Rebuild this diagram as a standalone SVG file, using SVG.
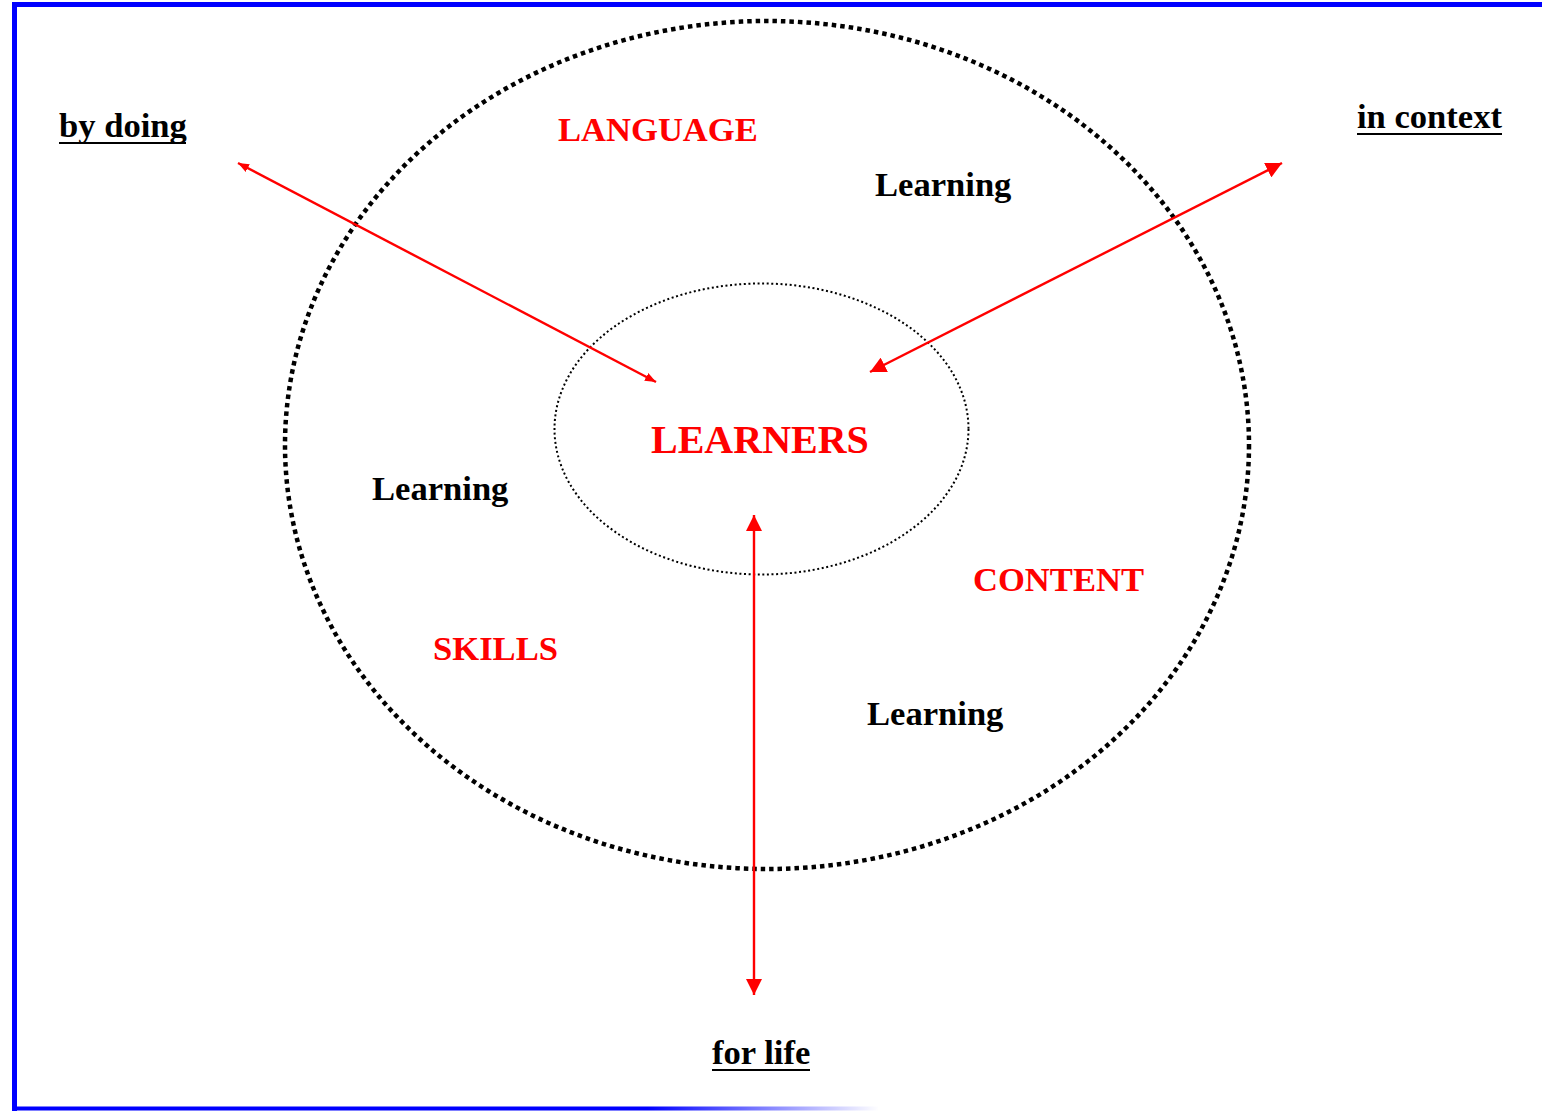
<svg xmlns="http://www.w3.org/2000/svg" width="1542" height="1111" viewBox="0 0 1542 1111">
<defs>
<style>
.t{font-family:"Liberation Serif","Times New Roman",serif;font-weight:bold;font-size:34.6px}
.blk{fill:#000}
.red{fill:#ff0000}
.ul{stroke:#000;stroke-width:2}
.con{stroke:#ff0000;stroke-width:2.4;fill:none}
</style>
<marker id="hs" viewBox="0 0 10 8" refX="10" refY="4" markerWidth="11" markerHeight="9" markerUnits="userSpaceOnUse" orient="auto-start-reverse"><path d="M0,0 L10,4 L0,8 Z" fill="#ff0000"/></marker>
<marker id="hl" viewBox="0 0 16 16" refX="16" refY="8" markerWidth="16" markerHeight="16" markerUnits="userSpaceOnUse" orient="auto-start-reverse"><path d="M0,0 L16,8 L0,16 Z" fill="#ff0000"/></marker>
<linearGradient id="bg" x1="0" y1="0" x2="1542" y2="0" gradientUnits="userSpaceOnUse">
<stop offset="0" stop-color="#0000ff"/>
<stop offset="0.42" stop-color="#0000ff"/>
<stop offset="0.57" stop-color="#0000ff" stop-opacity="0"/>
</linearGradient>
</defs>
<rect width="1542" height="1111" fill="#fff"/>
<g id="border">
<line x1="12" y1="4.5" x2="1542" y2="4.5" stroke="#0000ff" stroke-width="5"/>
<line x1="14.5" y1="2" x2="14.5" y2="1111" stroke="#0000ff" stroke-width="5"/>
<line x1="12" y1="1108.5" x2="1542" y2="1108.5" stroke="url(#bg)" stroke-width="4"/>
</g>
<g id="outer-circle"><ellipse cx="767" cy="445" rx="482" ry="424" fill="none" stroke="#000" stroke-width="4.5" stroke-dasharray="4.5 4"/></g>
<g id="inner-ellipse"><ellipse cx="761.5" cy="429" rx="207" ry="145.5" fill="none" stroke="#000" stroke-width="2" stroke-dasharray="2 2.6"/></g>
<g id="connectors">
<line class="con" x1="238" y1="163" x2="656" y2="382" marker-start="url(#hs)" marker-end="url(#hs)"/>
<line class="con" x1="870" y1="372" x2="1282" y2="163" marker-start="url(#hl)" marker-end="url(#hl)"/>
<line class="con" x1="754" y1="515" x2="754" y2="995" marker-start="url(#hl)" marker-end="url(#hl)"/>
</g>
<g id="by-doing"><text class="t blk" x="59" y="137">by doing</text><line class="ul" x1="59" y1="143" x2="186" y2="143"/></g>
<g id="in-context"><text class="t blk" x="1357" y="128">in context</text><line class="ul" x1="1357" y1="134" x2="1502" y2="134"/></g>
<g id="for-life"><text class="t blk" x="712" y="1064">for life</text><line class="ul" x1="712" y1="1070" x2="810" y2="1070"/></g>
<g id="language"><text class="t red" x="558" y="141">LANGUAGE</text></g>
<g id="learning-1"><text class="t blk" x="875" y="196">Learning</text></g>
<g id="learners"><text class="t red" x="651" y="453" style="font-size:40px">LEARNERS</text></g>
<g id="learning-2"><text class="t blk" x="372" y="500">Learning</text></g>
<g id="content"><text class="t red" x="973" y="591">CONTENT</text></g>
<g id="skills"><text class="t red" x="433" y="660">SKILLS</text></g>
<g id="learning-3"><text class="t blk" x="867" y="725">Learning</text></g>
</svg>
